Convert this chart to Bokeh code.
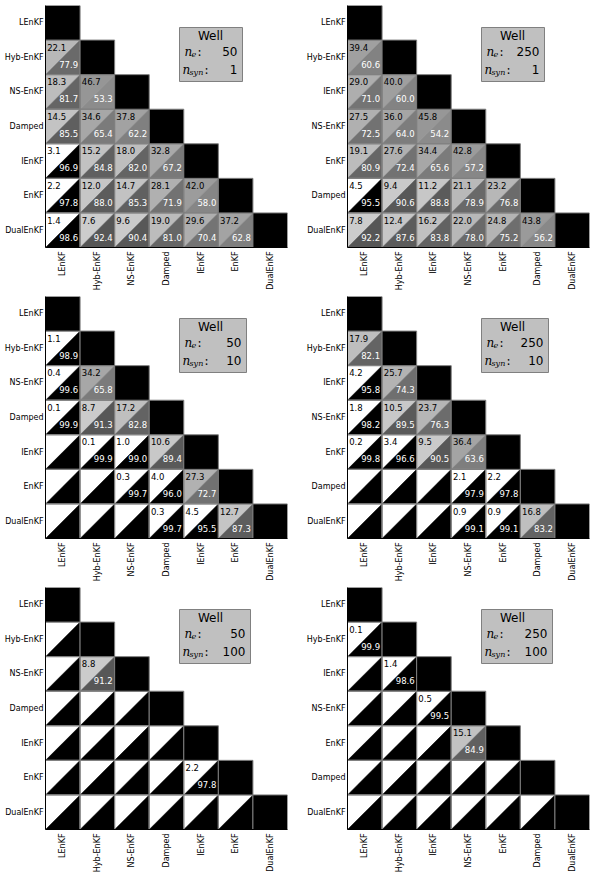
import math
from bokeh.plotting import figure
from bokeh.layouts import gridplot
from bokeh.models import FactorRange, Label, BoxAnnotation
from bokeh.core.properties import value
from bokeh.embed import file_html
from bokeh.resources import INLINE

# ---------------- data ----------------
order_a = ["LEnKF", "Hyb-EnKF", "NS-EnKF", "Damped", "IEnKF", "EnKF", "DualEnKF"]
order_b = ["LEnKF", "Hyb-EnKF", "IEnKF", "NS-EnKF", "EnKF", "Damped", "DualEnKF"]

# row i (method order[i]) vs column j < i : share (%) shown in upper-left triangle
vals_ne50_syn1 = [[], [22.1], [18.3, 46.7], [14.5, 34.6, 37.8], [3.1, 15.2, 18.0, 32.8],
                  [2.2, 12.0, 14.7, 28.1, 42.0], [1.4, 7.6, 9.6, 19.0, 29.6, 37.2]]
vals_ne250_syn1 = [[], [39.4], [29.0, 40.0], [27.5, 36.0, 45.8], [19.1, 27.6, 34.4, 42.8],
                   [4.5, 9.4, 11.2, 21.1, 23.2], [7.8, 12.4, 16.2, 22.0, 24.8, 43.8]]
vals_ne50_syn10 = [[], [1.1], [0.4, 34.2], [0.1, 8.7, 17.2], [0.0, 0.1, 1.0, 10.6],
                   [0.0, 0.0, 0.3, 4.0, 27.3], [0.0, 0.0, 0.0, 0.3, 4.5, 12.7]]
vals_ne250_syn10 = [[], [17.9], [4.2, 25.7], [1.8, 10.5, 23.7], [0.2, 3.4, 9.5, 36.4],
                    [0.0, 0.0, 0.0, 2.1, 2.2], [0.0, 0.0, 0.0, 0.9, 0.9, 16.8]]
vals_ne50_syn100 = [[], [0.0], [0.0, 8.8], [0.0, 0.0, 0.0], [0.0, 0.0, 0.0, 0.0],
                    [0.0, 0.0, 0.0, 0.0, 2.2], [0.0, 0.0, 0.0, 0.0, 0.0, 0.0]]
vals_ne250_syn100 = [[], [0.1], [0.0, 1.4], [0.0, 0.0, 0.5], [0.0, 0.0, 0.0, 15.1],
                     [0.0, 0.0, 0.0, 0.0, 0.0], [0.0, 0.0, 0.0, 0.0, 0.0, 0.0]]

ne_values = [50, 250, 50, 250, 50, 250]
nsyn_values = [1, 1, 10, 10, 100, 100]
orders = [order_a, order_b, order_a, order_b, order_a, order_b]
panel_vals = [vals_ne50_syn1, vals_ne250_syn1, vals_ne50_syn10,
              vals_ne250_syn10, vals_ne50_syn100, vals_ne250_syn100]

# ---------------- style ----------------
FONT = "DejaVu Sans"
FRAME = 242
EDGE = "#7f7f7f"


def gray(v):
    if v < 5:
        return "#ffffff"
    if v > 95:
        return "#000000"
    g = int(round(215 - 1.4 * v))
    return "#%02x%02x%02x" % (g, g, g)


def make_panel(order, vals, ne, nsyn, border_right, border_top):
    n = len(order)
    cell = FRAME / n
    p = figure(frame_width=FRAME, frame_height=FRAME,
               x_range=FactorRange(factors=order),
               y_range=FactorRange(factors=order[::-1]),
               output_backend="svg", toolbar_location=None,
               min_border_left=45, min_border_right=border_right,
               min_border_top=border_top, min_border_bottom=49)
    p.outline_line_color = None
    p.xgrid.visible = False
    p.ygrid.visible = False

    tri_xs, tri_ys, tri_c = [], [], []
    tx, ty, tt = [], [], []
    bx, by, bt = [], [], []
    cx, cy = [], []
    for i in range(n):
        for j in range(i):
            a = vals[i][j]
            b = 100.0 - a
            l, r = j, j + 1
            top, bot = n - i, n - i - 1
            tri_xs += [[l, l, r], [l, r, r]]
            tri_ys += [[bot, top, top], [bot, bot, top]]
            tri_c += [gray(a), gray(b)]
            cx.append(order[j])
            cy.append(order[i])
            if a >= 0.05:
                tx.append(l + 1.7 / cell)
                ty.append(top - 7.2 / cell)
                tt.append("%.1f" % a)
                bx.append(r - 2.0 / cell)
                by.append(top - 24.2 / cell)
                bt.append("%.1f" % b)

    p.patches(tri_xs, tri_ys, fill_color=tri_c, line_color=tri_c, line_width=0.5)
    p.rect(x=cx, y=cy, width=1, height=1, fill_color=None, line_color=EDGE, line_width=1)
    p.rect(x=order, y=order, width=1, height=1, fill_color="black", line_color=EDGE, line_width=1)

    p.text(x=tx, y=ty, text=tt, text_font=value(FONT), text_font_size="8.5px",
           text_color="black", text_align="left", text_baseline="middle")
    p.text(x=bx, y=by, text=bt, text_font=value(FONT), text_font_size="8.5px",
           text_color="white", text_align="right", text_baseline="middle")

    # info box
    bw = 59 + 4 * len(str(nsyn))
    bl = 134 / cell
    br = (134 + bw) / cell
    p.add_layout(BoxAnnotation(left=bl, right=br, top=n - 22 / cell, bottom=n - 76 / cell,
                               fill_color="#c0c0c0", fill_alpha=1.0,
                               line_color="#808080", line_width=1, line_alpha=1.0))
    p.add_layout(Label(x=(134 + 31) / cell, y=n - 30 / cell, text="Well",
                       text_font=FONT, text_font_size="12px", text_align="center",
                       text_baseline="middle", text_color="black"))
    for k, (sub, val, lx) in enumerate([("e", ne, 139), ("syn", nsyn, 137)]):
        yc = n - (46 + 18 * k) / cell
        p.add_layout(Label(x=lx / cell, y=yc, text="n", text_font="DejaVu Serif",
                           text_font_style="italic", text_font_size="12px",
                           text_align="left", text_baseline="middle", text_color="black"))
        p.add_layout(Label(x=(lx + 7) / cell, y=yc - 3 / cell, text=sub, text_font="DejaVu Serif",
                           text_font_style="italic", text_font_size="8px",
                           text_align="left", text_baseline="middle", text_color="black"))
        colon_x = lx + 7 + (5 if sub == "e" else 14) + 1
        p.add_layout(Label(x=colon_x / cell, y=yc, text=":", text_font="DejaVu Serif",
                           text_font_size="12px", text_align="left",
                           text_baseline="middle", text_color="black"))
        p.add_layout(Label(x=(134 + bw - 5) / cell, y=yc, text=str(val), text_font=FONT,
                           text_font_size="12px", text_align="right",
                           text_baseline="middle", text_color="black"))

    for ax in (p.xaxis[0], p.yaxis[0]):
        ax.major_label_text_font = FONT
        ax.major_label_text_font_size = "8px"
        ax.major_label_text_color = "black"
        ax.major_tick_line_color = None
        ax.major_tick_out = 0
        ax.major_tick_in = 0
        ax.axis_line_color = "black"
        ax.axis_line_width = 1
    p.xaxis.major_label_orientation = math.pi / 2
    p.xaxis.major_label_standoff = 4
    p.yaxis.major_label_standoff = 2
    return p


figs = []
for k in range(6):
    rb = 15 if k % 2 == 0 else 5
    tb = 5 if k < 2 else 0
    figs.append(make_panel(orders[k], panel_vals[k], ne_values[k], nsyn_values[k], rb, tb))

grid = gridplot([[figs[0], figs[1]], [figs[2], figs[3]], [figs[4], figs[5]]],
                toolbar_location=None)

open("out.html", "w").write(file_html(grid, INLINE))
